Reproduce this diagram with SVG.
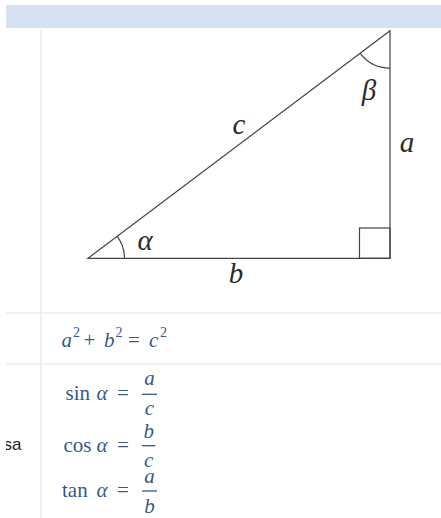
<svg xmlns="http://www.w3.org/2000/svg" width="441" height="518" viewBox="0 0 441 518">
<style>
.tri{fill:none;stroke:#444;stroke-width:1.2;stroke-linejoin:miter}
.lbl{font-family:"Liberation Serif",serif;font-style:italic;font-size:29px;fill:#2b2b2b}
.m{font-family:"Liberation Serif",serif;font-size:21px;fill:#36598a}
.mi{font-style:italic}
.sup{font-size:14px}
.grid{stroke:#e6e6e6;stroke-width:1.2}
.bar{stroke:#36598a;stroke-width:1.3}
.side{font-family:"Liberation Sans",sans-serif;font-size:17px;fill:#202122}
</style>
<defs>
<clipPath id="clip"><rect x="6" y="0" width="435" height="518"/></clipPath>
</defs>
<rect x="0" y="0" width="441" height="518" fill="#ffffff"/>
<g clip-path="url(#clip)">
<g id="header"><rect x="6" y="5" width="435" height="23" fill="#d6e2f2"/></g>
<g id="grid">
<line class="grid" x1="41" y1="29" x2="41" y2="518"/>
<line class="grid" x1="6" y1="313" x2="441" y2="313"/>
<line class="grid" x1="6" y1="364" x2="441" y2="364"/>
</g>
<g id="triangle">
<polygon class="tri" points="88,258.3 390,258.3 390,30.7"/>
<rect class="tri" x="359.5" y="228" width="30.5" height="30.3"/>
<path class="tri" d="M124.5,258.3 A36.5,36.5 0 0 0 117.2,236.4"/>
<path class="tri" d="M390,68.2 A37.5,37.5 0 0 1 360,53.2"/>
<text class="lbl" x="239" y="134" text-anchor="middle">c</text>
<text class="lbl" x="369" y="100" text-anchor="middle">β</text>
<text class="lbl" x="407" y="152" text-anchor="middle">a</text>
<text class="lbl" x="145" y="250" text-anchor="middle">α</text>
<text class="lbl" x="236" y="283" text-anchor="middle">b</text>
</g>
<g id="pythagoras">
<text class="m" y="346.5"><tspan class="mi" x="61.5">a</tspan><tspan class="sup" x="73" y="337">2</tspan><tspan x="83.5" y="346.5">+</tspan><tspan class="mi" x="104">b</tspan><tspan class="sup" x="115.5" y="337">2</tspan><tspan x="128" y="346.5">=</tspan><tspan class="mi" x="149">c</tspan><tspan class="sup" x="160" y="337">2</tspan></text>
</g>
<g id="sin">
<text class="m" y="400"><tspan x="65.5">sin</tspan><tspan class="mi" x="96.5">α</tspan><tspan x="117">=</tspan></text>
<line class="bar" x1="142" y1="394.3" x2="157" y2="394.3"/>
<text class="m mi" x="149.5" y="385" text-anchor="middle">a</text>
<text class="m mi" x="149.5" y="415" text-anchor="middle">c</text>
</g>
<g id="cos">
<text class="m" y="451.5"><tspan x="63.5">cos</tspan><tspan class="mi" x="96.5">α</tspan><tspan x="117">=</tspan></text>
<line class="bar" x1="142" y1="445.7" x2="155.5" y2="445.7"/>
<text class="m mi" x="148.7" y="438.3" text-anchor="middle">b</text>
<text class="m mi" x="148.7" y="466.5" text-anchor="middle">c</text>
</g>
<g id="tan">
<text class="m" y="496.7"><tspan x="62">tan</tspan><tspan class="mi" x="96.5">α</tspan><tspan x="117">=</tspan></text>
<line class="bar" x1="142" y1="491" x2="157" y2="491"/>
<text class="m mi" x="149.5" y="482.7" text-anchor="middle">a</text>
<text class="m mi" x="149.5" y="513" text-anchor="middle">b</text>
</g>
<g id="side-label"><text class="side" x="3.5" y="450">sa</text></g>
</g>
</svg>
